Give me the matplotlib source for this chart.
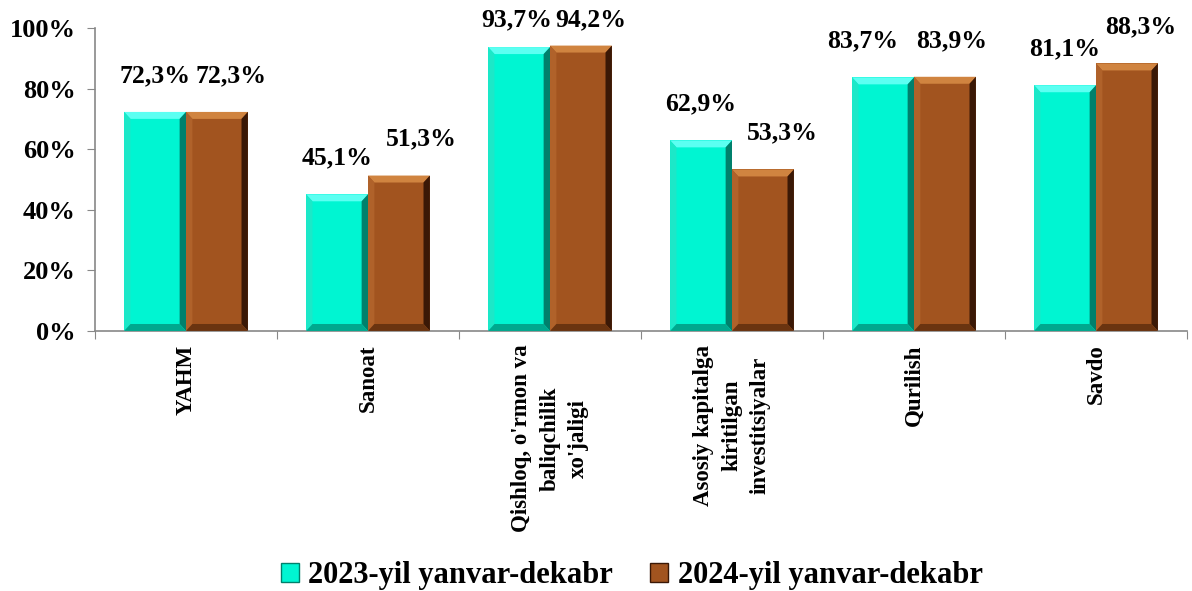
import numpy as np
import matplotlib.pyplot as plt
from matplotlib.patches import Polygon, Patch

plt.rcParams['font.family'] = 'Liberation Serif'
plt.rcParams['font.weight'] = 'bold'

# data
categories = ["YAHM", "Sanoat", "Qishloq, o'rmon va\nbaliqchilik\nxo'jaligi",
              "Asosiy kapitalga\nkiritilgan\ninvestitsiyalar", "Qurilish", "Savdo"]
y2023 = [72.3, 45.1, 93.7, 62.9, 83.7, 81.1]
y2024 = [72.3, 51.3, 94.2, 53.3, 83.9, 88.3]
series_names = ["2023-yil yanvar-dekabr", "2024-yil yanvar-dekabr"]

# colors: main, top, left, right, bottom
teal = ['#00F5D2', '#5CFFF2', '#1CE8C8', '#00806C', '#00A88E']
brown = ['#A2541F', '#D08440', '#B0622A', '#3A1806', '#6A3410']

# label nudges (points) - manual placement like the original
nudge_a = [0, 0, -2, 0, -15, 0]
nudge_b = [10, 16, 7, 14, 5, 10]

fig = plt.figure(figsize=(11.92, 5.91), dpi=100)
ax = fig.add_axes([0.0797, 0.44, 0.9161, 0.5126])

x = np.arange(len(categories))
w = 0.34


def bevel(ax, x0, h, width, cols):
    bx, by = 0.035, 2.3
    x1 = x0 + width
    ax.add_patch(Polygon([[x0, h], [x1, h], [x1 - bx, h - by], [x0 + bx, h - by]],
                         closed=True, fc=cols[1], ec='none', zorder=3))
    ax.add_patch(Polygon([[x0, 0], [x0, h], [x0 + bx, h - by], [x0 + bx, by]],
                         closed=True, fc=cols[2], ec='none', zorder=3))
    ax.add_patch(Polygon([[x1, 0], [x1, h], [x1 - bx, h - by], [x1 - bx, by]],
                         closed=True, fc=cols[3], ec='none', zorder=3))
    ax.add_patch(Polygon([[x0, 0], [x1, 0], [x1 - bx, by], [x0 + bx, by]],
                         closed=True, fc=cols[4], ec='none', zorder=3))


bars_a = ax.bar(x - w / 2, y2023, w, color=teal[0], zorder=2)
bars_b = ax.bar(x + w / 2, y2024, w, color=brown[0], zorder=2)

for b in bars_a:
    bevel(ax, b.get_x(), b.get_height(), b.get_width(), teal)
for b in bars_b:
    bevel(ax, b.get_x(), b.get_height(), b.get_width(), brown)

for bars, vals, nud in [(bars_a, y2023, nudge_a), (bars_b, y2024, nudge_b)]:
    for b, v, n in zip(bars, vals, nud):
        yy = min(v + 12, 102.6)
        ax.annotate(f"{v:.1f}%".replace('.', ','), (b.get_x() + b.get_width() / 2, yy),
                    xytext=(n, 0), textcoords='offset points',
                    ha='center', va='center', fontsize=18.5, fontweight='bold',
                    annotation_clip=False)

ax.set_xlim(-0.5, len(categories) - 0.5)
ax.set_ylim(0, 100)
ax.set_yticks(np.arange(0, 101, 20))
ax.set_yticklabels([f"{t}%" for t in range(0, 101, 20)], fontsize=19, fontweight='bold')

ax.set_xticks(np.arange(-0.5, len(categories), 1))
ax.set_xticklabels([])
ax.tick_params(axis='x', length=6, color='#888888', direction='out')
ax.tick_params(axis='y', length=6, color='#888888', direction='out', pad=8)

for i, c in enumerate(categories):
    ax.text(i, -4.5, c, rotation=90, ha='center', va='top', ma='center',
            fontsize=16.5, fontweight='bold', linespacing=1.45, transform=ax.transData)

for s in ['top', 'right']:
    ax.spines[s].set_visible(False)
for s in ['left', 'bottom']:
    ax.spines[s].set_color('#888888')
    ax.spines[s].set_linewidth(1.2)

handles = [Patch(facecolor=teal[0], edgecolor=teal[3]),
           Patch(facecolor=brown[0], edgecolor=brown[3])]
fig.legend(handles, series_names, loc='lower center', bbox_to_anchor=(0.53, -0.045),
           ncol=2, frameon=False, prop={'size': 22, 'weight': 'bold'},
           handlelength=0.6, handleheight=0.6, handletextpad=0.3, columnspacing=1.2)

fig.savefig("out.png", dpi=100)
